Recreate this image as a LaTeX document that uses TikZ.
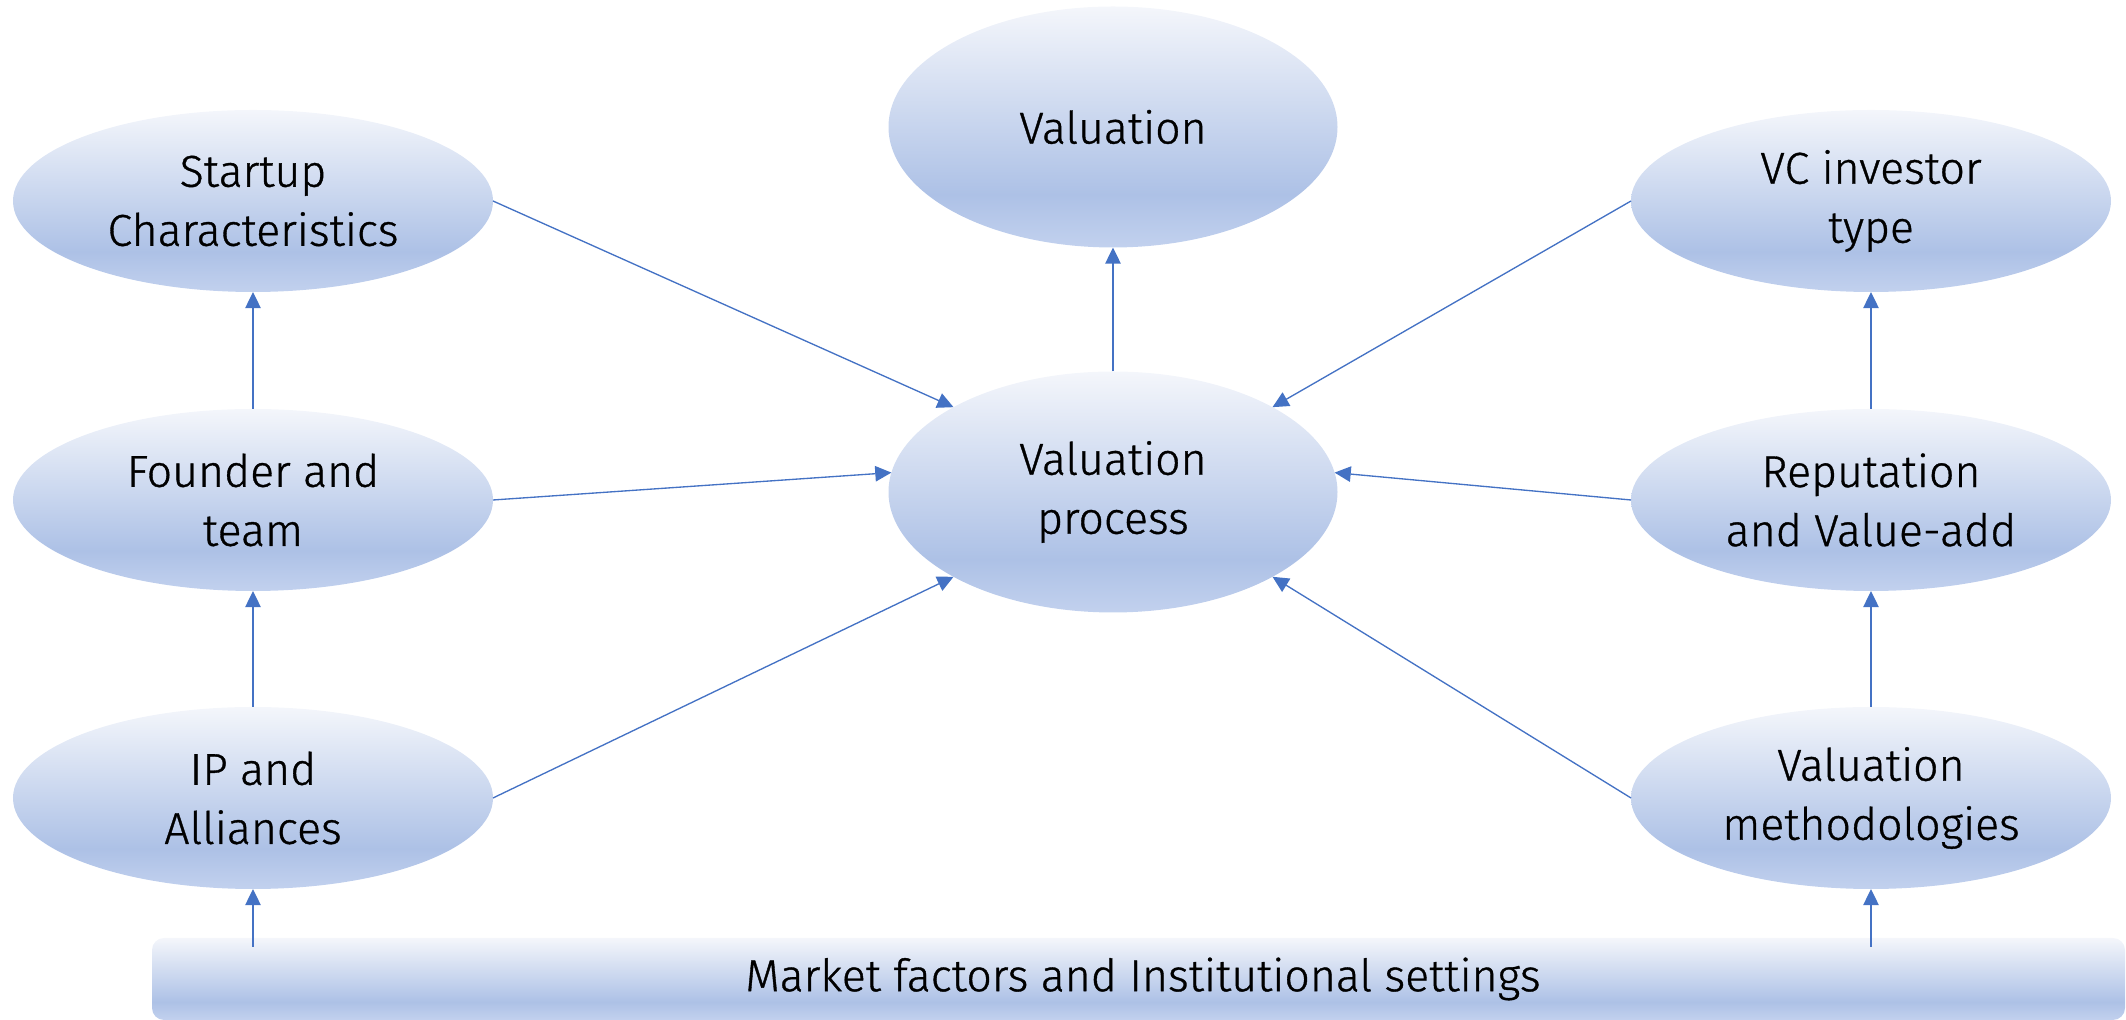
\documentclass[tikz,border=0pt]{standalone}
\usepackage{fontspec}
\setmainfont{Fira Sans}[UprightFont=* Light, UprightFeatures={FakeBold=0.8}]
\usetikzlibrary{shapes.geometric,arrows.meta,calc}
\definecolor{filltop}{HTML}{F4F6FB}
\definecolor{filldark}{HTML}{ADC1E6}
\definecolor{fillbot}{HTML}{C2D1EE}
\definecolor{arrowblue}{HTML}{4472C4}
% light-to-blue fill, top to bottom, with a lighter rim at the very bottom
\pgfdeclareverticalshading{bluefill}{100bp}{%
  color(0bp)=(fillbot); color(25bp)=(fillbot); color(36bp)=(filldark);
  color(75bp)=(filltop); color(100bp)=(filltop)}
\tikzset{
  bubble/.style={ellipse, shading=bluefill, draw=none, inner sep=0pt, outer sep=0pt,
    align=center, font=\fontsize{12.7}{16.8}\selectfont},
  side/.style={bubble, minimum width=4.80cm, minimum height=1.82cm},
  hub/.style={bubble, minimum width=4.49cm, minimum height=2.41cm},
  band/.style={rectangle, rounded corners=0.12cm, shading=bluefill, inner sep=0pt,
    outer sep=0pt, minimum width=19.73cm, minimum height=0.82cm},
  link/.style={draw=arrowblue, line width=0.38pt,
    -{Triangle[length=4.6pt, width=4.4pt]}}
}
\begin{document}
\begin{tikzpicture}[x=1cm, y=-1cm]
  \useasboundingbox (0,0) rectangle (21.26,10.20);

  % centre column
  \node[hub] (val) at (11.13,1.27) {Valuation};
  \node[hub] (vp)  at (11.13,4.92) {Valuation\\process};

  % left column
  \node[side] (sc) at (2.53,2.01) {Startup\\Characteristics};
  \node[side] (ft) at (2.53,5.00) {Founder and\\team};
  \node[side] (ip) at (2.53,7.98) {IP and\\Alliances};

  % right column
  \node[side] (vc) at (18.71,2.01) {VC investor\\type};
  \node[side] (rv) at (18.71,5.00) {Reputation\\and Value-add};
  \node[side] (vm) at (18.71,7.98) {Valuation\\methodologies};

  % base band
  \node[band] (mk) at (11.385,9.79) {};
  \node[font=\fontsize{12.7}{16.8}\selectfont] (mktxt) at (11.43,9.79)
    {Market factors and Institutional settings};

  % connectors into the valuation process
  \draw[link] (sc.east) -- (vp.152);
  \draw[link] (ft.east) -- (vp.175);
  \draw[link] (ip.east) -- (vp.208);
  \draw[link] (vc.west) -- (vp.28.5);
  \draw[link] (rv.west) -- (vp.5);
  \draw[link] (vm.west) -- (vp.-28.5);
  \draw[link] (vp.north) -- (val.south);

  % vertical chains
  \draw[link] (ft.north) -- (sc.south);
  \draw[link] (ip.north) -- (ft.south);
  \draw[link] ([yshift=-0.09cm]ip.south |- mk.north) -- (ip.south);
  \draw[link] (rv.north) -- (vc.south);
  \draw[link] (vm.north) -- (rv.south);
  \draw[link] ([yshift=-0.09cm]vm.south |- mk.north) -- (vm.south);
\end{tikzpicture}
\end{document}
